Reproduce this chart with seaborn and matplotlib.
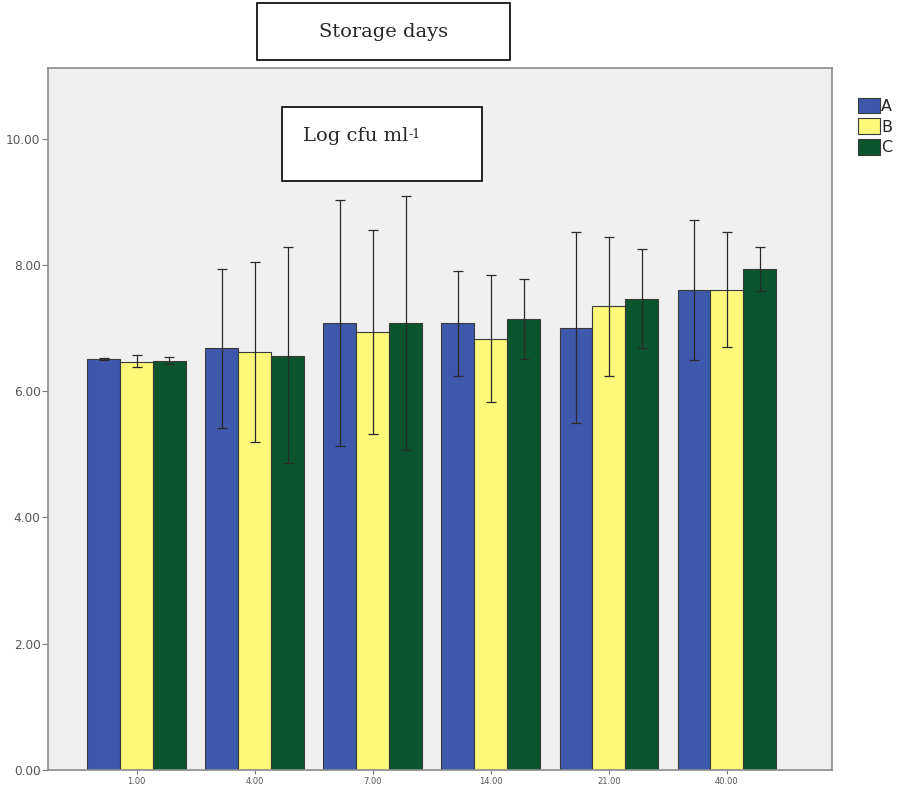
import pandas as pd
import matplotlib.pyplot as plt
import matplotlib.patches as mpatches
from matplotlib.text import Annotation
import seaborn as sns

# Veriler
days = ['1.00', '4.00', '7.00', '14.00', '21.00', '40.00']
groups = ['A', 'B', 'C']
mean_a = [6.51, 6.69, 7.08, 7.08, 7.00, 7.61]
mean_b = [6.47, 6.62, 6.94, 6.83, 7.35, 7.61]
mean_c = [6.48, 6.56, 7.08, 7.15, 7.46, 7.94]
low_a = [6.49, 5.42, 5.13, 6.24, 5.50, 6.50]
low_b = [6.39, 5.20, 5.32, 5.83, 6.24, 6.70]
low_c = [6.43, 4.86, 5.07, 6.51, 6.69, 7.58]
high_a = [6.53, 7.94, 9.03, 7.91, 8.52, 8.71]
high_b = [6.58, 8.05, 8.55, 7.84, 8.45, 8.52]
high_c = [6.55, 8.28, 9.10, 7.78, 8.25, 8.28]
colors = ['#3E58AC', '#FBF87A', '#0A552D']

means = [mean_a, mean_b, mean_c]
lows = [low_a, low_b, low_c]
highs = [high_a, high_b, high_c]

rows = []
for g, m, lo, hi in zip(groups, means, lows, highs):
    for d, mv, lv, hv in zip(days, m, lo, hi):
        rows.append({'day': d, 'group': g, 'mean': mv, 'low': lv, 'high': hv})
df = pd.DataFrame(rows)

sns.set_style('white')
fig = plt.figure(figsize=(9.01, 7.87), dpi=100)
ax = fig.add_axes([0.0533, 0.0216, 0.8701, 0.892])
ax.set_facecolor('#F0F0F0')

sns.barplot(data=df, x='day', y='mean', hue='group', order=days, hue_order=groups,
            palette=colors, width=0.835, errorbar=None, edgecolor='#3a3a3a',
            linewidth=0.8, saturation=1, ax=ax)

# Hata çubukları
for cont, g in zip(ax.containers, groups):
    sub = df[df['group'] == g].set_index('day').loc[days]
    xs = [p.get_x() + p.get_width() / 2 for p in cont.patches]
    ys = sub['mean'].values
    yerr = [ys - sub['low'].values, sub['high'].values - ys]
    ax.errorbar(xs, ys, yerr=yerr, fmt='none', ecolor='#2a2a2a',
                elinewidth=0.9, capsize=3.5, capthick=0.9)

ax.set_xlim(-0.75, 5.89)
ax.set_ylim(0, 11.12)
ax.set_yticks([0, 2, 4, 6, 8, 10])
ax.set_yticklabels([f'{v:.2f}' for v in [0, 2, 4, 6, 8, 10]])
ax.set_xlabel('')
ax.set_ylabel('')
ax.tick_params(axis='y', labelsize=8.7, colors='#777777', length=4, width=0.8,
               direction='out', left=True, pad=1.5)
ax.tick_params(axis='x', labelsize=6, colors='#777777', length=3, width=0.8,
               direction='out', bottom=True, pad=2)
for lab in ax.get_xticklabels() + ax.get_yticklabels():
    lab.set_color('#555555')
for s in ax.spines.values():
    s.set_color('#8c8c8c')
    s.set_linewidth(1.2)

# Lejant
handles, labels = ax.get_legend_handles_labels()
ax.legend(handles, labels, loc='upper left', bbox_to_anchor=(1.025, 0.967),
          frameon=False, fontsize=11.5, handlelength=1.4, handleheight=1.1,
          handletextpad=0.05, labelspacing=0.3, borderaxespad=0)

# Başlık kutuları
fig.patches.append(mpatches.Rectangle((0.2852, 0.9238), 0.2808, 0.0724,
                                      transform=fig.transFigure, fill=False,
                                      edgecolor='black', linewidth=1.2))
fig.text(0.4256, 0.9593, 'Storage days', ha='center', va='center',
         family='DejaVu Serif', fontsize=14)

fig.patches.append(mpatches.Rectangle((0.3130, 0.7700), 0.2220, 0.0940,
                                      transform=fig.transFigure, facecolor='white',
                                      edgecolor='black', linewidth=1.2, zorder=5))
t = fig.text(0.3363, 0.8272, 'Log cfu ml', ha='left', va='center',
             family='DejaVu Serif', fontsize=14, zorder=6)
sup = Annotation('-1', xy=(1.0, 0.95), xycoords=t, ha='left', va='top',
                 family='DejaVu Serif', fontsize=9)
sup.set_zorder(7)
fig.add_artist(sup)

fig.savefig('out.png', dpi=100)
